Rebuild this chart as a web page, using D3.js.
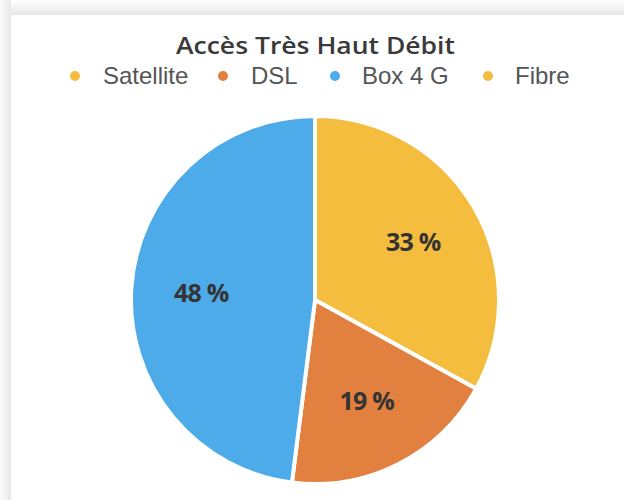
<!DOCTYPE html>
<html>
<head>
<meta charset="utf-8">
<script src="https://cdn.jsdelivr.net/npm/d3@7"></script>
<style>
  body { margin: 0; background: #fff; }
</style>
</head>
<body>
<svg id="chart" width="624" height="500"></svg>
<script>
var title = "Accès Très Haut Débit";
var categories = ["Satellite", "DSL", "Box 4 G", "Fibre"];
var values = [33, 19, 48, 0];
var colors = ["#f5bd3e", "#e2803f", "#4eabe9", "#f5bd3e"];

var svg = d3.select("#chart");

// grey frame with shadow, white card
var defs = svg.append("defs");
var gx = defs.append("linearGradient").attr("id", "topShade").attr("x1", 0).attr("y1", 0).attr("x2", 0).attr("y2", 1);
gx.append("stop").attr("offset", "0%").attr("stop-color", "#ffffff");
gx.append("stop").attr("offset", "100%").attr("stop-color", "#e6e6e6");
var gl = defs.append("linearGradient").attr("id", "leftShade").attr("x1", 0).attr("y1", 0).attr("x2", 1).attr("y2", 0);
gl.append("stop").attr("offset", "0%").attr("stop-color", "#fafafa");
gl.append("stop").attr("offset", "100%").attr("stop-color", "#e8e8e8");

svg.append("rect").attr("x", 0).attr("y", 0).attr("width", 624).attr("height", 15).attr("fill", "url(#topShade)");
svg.append("rect").attr("x", 0).attr("y", 0).attr("width", 11).attr("height", 500).attr("fill", "url(#leftShade)");
svg.append("rect").attr("x", 11).attr("y", 15).attr("width", 613).attr("height", 485).attr("fill", "#ffffff");

svg.append("text")
  .attr("x", 176).attr("y", 54)
  .attr("textLength", 279)
  .attr("lengthAdjust", "spacingAndGlyphs")
  .attr("font-family", "'Open Sans', sans-serif")
  .attr("font-size", 24)
  .attr("font-weight", 600)
  .attr("fill", "#3a3a3a")
  .text(title);

// legend
var dotX = [75, 223, 335, 488];
var textX = [103, 251, 362, 515];
var legend = svg.selectAll(".leg").data(categories).enter().append("g")
  .attr("class", "leg");
legend.append("circle")
  .attr("cx", function(d, i){ return dotX[i]; })
  .attr("cy", 76)
  .attr("r", 5)
  .attr("fill", function(d, i){ return colors[i]; });
legend.append("text")
  .attr("x", function(d, i){ return textX[i]; })
  .attr("y", 84)
  .attr("font-family", "'Liberation Sans', Arial, sans-serif")
  .attr("font-size", 24)
  .attr("fill", "#555")
  .text(function(d){ return d; });

// pie
var cx = 315, cy = 300, r = 184;
var pie = d3.pie().sort(null).value(function(d){ return d; });
var arc = d3.arc().innerRadius(0).outerRadius(r);
var labelArc = d3.arc().innerRadius(r * 0.62).outerRadius(r * 0.62);

var g = svg.append("g").attr("transform", "translate(" + cx + "," + cy + ")");
var arcs = pie(values);
g.selectAll("path").data(arcs).enter().append("path")
  .attr("d", arc)
  .attr("fill", function(d, i){ return colors[i]; })
  .attr("stroke", "#fff")
  .attr("stroke-width", 4)
  .attr("stroke-linejoin", "round");

g.selectAll(".lbl").data(arcs.filter(function(d){ return d.value > 0; })).enter().append("text")
  .attr("class", "lbl")
  .attr("transform", function(d){ var c = labelArc.centroid(d); return "translate(" + c[0] + "," + c[1] + ")"; })
  .attr("text-anchor", "middle")
  .attr("dy", "0.35em")
  .attr("font-family", "'Open Sans', sans-serif")
  .attr("font-size", 25)
  .attr("font-weight", 700)
  .attr("letter-spacing", -0.8)
  .attr("fill", "#333")
  .text(function(d){ return d.value + " %"; });
</script>
</body>
</html>
